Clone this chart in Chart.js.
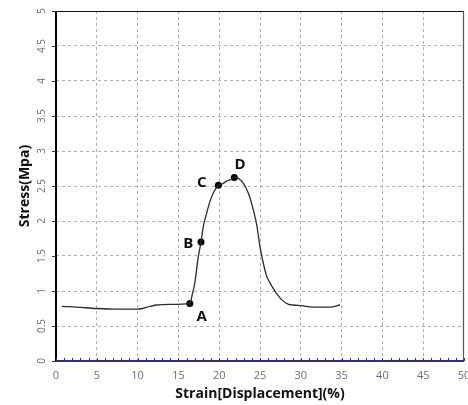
<!DOCTYPE html>
<html>
<head>
<meta charset="utf-8">
<script src="https://cdn.jsdelivr.net/npm/chart.js@4.4.0/dist/chart.umd.min.js"></script>
<style>
  html, body { margin: 0; padding: 0; background: #ffffff; }
  #wrap { position: relative; width: 468px; height: 405px; }
</style>
</head>
<body>
<div id="wrap"><canvas id="c" width="468" height="405"></canvas></div>
<script>
// ---- data ----
const strain = [0.7, 2.5, 5.0, 7.5, 10.0, 10.6, 11.5, 12.3, 14.0, 16.4, 16.7, 17.0, 17.44, 17.77, 18.05, 18.46, 18.87, 19.28, 19.9, 20.4, 20.92, 21.4, 21.85, 22.34, 22.95, 23.56, 24.18, 24.59, 25.0, 25.4, 25.8, 26.2, 26.6, 27.0, 27.7, 28.5, 29.1, 30.1, 31.5, 33.6, 34.8];
const stress = [0.78, 0.77, 0.75, 0.74, 0.74, 0.75, 0.78, 0.80, 0.81, 0.82, 0.95, 1.11, 1.49, 1.70, 1.92, 2.11, 2.28, 2.40, 2.51, 2.53, 2.57, 2.59, 2.62, 2.61, 2.54, 2.40, 2.16, 1.95, 1.63, 1.40, 1.22, 1.12, 1.04, 0.97, 0.87, 0.81, 0.80, 0.79, 0.77, 0.77, 0.80];

const markerNames = ['A', 'B', 'C', 'D'];
const markerStrain = [16.4, 17.77, 19.9, 21.85];
const markerStress = [0.82, 1.70, 2.51, 2.62];
const labelStrain = [17.86, 16.2, 17.86, 22.55];
const labelStress = [0.63, 1.68, 2.54, 2.81];

const xTicks = [0, 5, 10, 15, 20, 25, 30, 35, 40, 45, 50];
const yTicks = ['0', '0.5', '1', '1.5', '2', '2.5', '3', '3.5', '4', '4.5', '5'];

const xTitle = 'Strain[Displacement](%)';
const yTitle = 'Stress(Mpa)';

const FONT = "'Open Sans', 'DejaVu Sans', sans-serif";

const decor = {
  id: 'decor',
  beforeDatasetsDraw(chart) {
    const ctx = chart.ctx;
    const a = chart.chartArea;
    const xs = chart.scales.x, ys = chart.scales.y;
    ctx.save();
    // top border
    ctx.strokeStyle = '#111';
    ctx.lineWidth = 1.2;
    ctx.beginPath(); ctx.moveTo(a.left, a.top + 0.5); ctx.lineTo(a.right, a.top + 0.5); ctx.stroke();
    // right border
    ctx.strokeStyle = '#555';
    ctx.lineWidth = 1.2;
    ctx.beginPath(); ctx.moveTo(a.right - 0.5, a.top); ctx.lineTo(a.right - 0.5, a.bottom); ctx.stroke();
    // left axis
    ctx.strokeStyle = '#000';
    ctx.lineWidth = 2;
    ctx.beginPath(); ctx.moveTo(a.left, a.top); ctx.lineTo(a.left, a.bottom); ctx.stroke();
    // y tick marks + labels
    ctx.lineWidth = 1;
    ctx.fillStyle = '#6e6e6e';
    ctx.font = '10px ' + FONT;
    ctx.textAlign = 'center';
    ctx.textBaseline = 'middle';
    yTicks.forEach(t => {
      const py = ys.getPixelForValue(parseFloat(t));
      ctx.strokeStyle = '#333';
      ctx.beginPath(); ctx.moveTo(a.left - 4, Math.round(py) + 0.5); ctx.lineTo(a.left, Math.round(py) + 0.5); ctx.stroke();
      ctx.save();
      ctx.translate(42, py);
      ctx.rotate(-Math.PI / 2);
      ctx.fillText(t, 0, 0);
      ctx.restore();
    });
    // bottom axis (blue)
    ctx.strokeStyle = '#2a2a9a';
    ctx.lineWidth = 2;
    ctx.beginPath(); ctx.moveTo(a.left, a.bottom); ctx.lineTo(a.right, a.bottom); ctx.stroke();
    // minor ticks every unit
    ctx.lineWidth = 1;
    for (let v = 0; v <= 50; v += 1) {
      const px = Math.round(xs.getPixelForValue(v)) + 0.5;
      ctx.beginPath(); ctx.moveTo(px, a.bottom); ctx.lineTo(px, a.bottom - 3); ctx.stroke();
    }
    ctx.restore();
  },
  afterDatasetsDraw(chart) {
    const ctx = chart.ctx;
    const xs = chart.scales.x, ys = chart.scales.y;
    ctx.save();
    ctx.fillStyle = '#111';
    ctx.font = 'bold 15px ' + FONT;
    ctx.textAlign = 'center';
    ctx.textBaseline = 'middle';
    markerNames.forEach((n, i) => {
      ctx.fillText(n, xs.getPixelForValue(labelStrain[i]), ys.getPixelForValue(labelStress[i]));
    });
    ctx.restore();
  }
};

new Chart(document.getElementById('c'), {
  type: 'scatter',
  data: {
    datasets: [
      {
        data: strain.map((x, i) => ({ x: x, y: stress[i] })),
        showLine: true,
        borderColor: '#2b2b2b',
        borderWidth: 1.3,
        pointRadius: 0,
        cubicInterpolationMode: 'monotone',
        fill: false
      },
      {
        data: markerStrain.map((x, i) => ({ x: x, y: markerStress[i] })),
        showLine: false,
        pointRadius: 3.5,
        pointBackgroundColor: '#000',
        pointBorderColor: '#000',
        pointBorderWidth: 0
      }
    ]
  },
  options: {
    responsive: false,
    animation: false,
    devicePixelRatio: 1,
    layout: { padding: { left: 0, top: 11, right: 4, bottom: 0 } },
    plugins: { legend: { display: false }, tooltip: { enabled: false } },
    scales: {
      x: {
        type: 'linear',
        min: 0, max: 50,
        afterBuildTicks(scale) { scale.ticks = xTicks.map(v => ({ value: v })); },
        afterFit(scale) { scale.height = 44; scale.paddingLeft = 0; scale.paddingRight = 0; },
        ticks: { color: '#6e6e6e', font: { size: 11, family: FONT }, padding: 8, maxRotation: 0, autoSkip: false },
        grid: {
          drawTicks: false,
          lineWidth: 1,
          color: ctx => (ctx.tick && (ctx.tick.value === 0 || ctx.tick.value === 50)) ? 'rgba(0,0,0,0)' : '#b0b0b0'
        },
        border: { display: false, dash: [3, 3] },
        title: { display: true, text: xTitle, color: '#111', font: { size: 14, weight: 'bold', family: FONT }, padding: { top: 0, bottom: 3 } }
      },
      y: {
        type: 'linear',
        min: 0, max: 5,
        afterBuildTicks(scale) { scale.ticks = yTicks.map(v => ({ value: parseFloat(v) })); },
        afterFit(scale) { scale.width = 56; },
        ticks: { display: false },
        grid: {
          drawTicks: false,
          lineWidth: 1,
          color: ctx => (ctx.tick && (ctx.tick.value === 0 || ctx.tick.value === 5)) ? 'rgba(0,0,0,0)' : '#b0b0b0'
        },
        border: { display: false, dash: [3, 3] },
        title: { display: true, text: yTitle, color: '#111', font: { size: 14, weight: 'bold', family: FONT }, padding: { top: 17, bottom: 0 } }
      }
    }
  },
  plugins: [decor]
});
</script>
</body>
</html>
